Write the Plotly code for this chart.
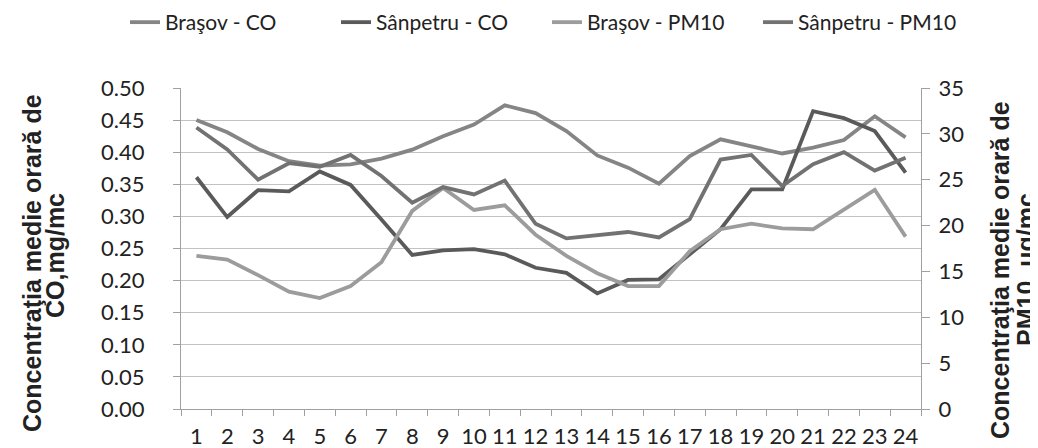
import plotly.graph_objects as go

hours = list(range(1, 25))

brasov_co = [0.450, 0.431, 0.405, 0.386, 0.379, 0.381, 0.390, 0.404, 0.425, 0.443, 0.473, 0.461,
             0.433, 0.395, 0.376, 0.351, 0.394, 0.420, 0.409, 0.398, 0.407, 0.419, 0.456, 0.423]
sanpetru_co = [0.361, 0.299, 0.341, 0.339, 0.370, 0.349, 0.295, 0.240, 0.247, 0.249, 0.241, 0.220,
               0.212, 0.180, 0.201, 0.202, 0.241, 0.280, 0.342, 0.342, 0.464, 0.453, 0.433, 0.368]
brasov_pm10 = [16.7, 16.3, 14.6, 12.8, 12.1, 13.4, 16.0, 21.6, 24.1, 21.7, 22.2, 19.0,
               16.7, 14.8, 13.4, 13.4, 17.2, 19.6, 20.2, 19.7, 19.6, 21.8, 23.9, 18.8]
sanpetru_pm10 = [30.7, 28.3, 25.0, 26.8, 26.4, 27.7, 25.4, 22.5, 24.2, 23.4, 24.9, 20.2,
                 18.6, 19.0, 19.3, 18.7, 20.7, 27.2, 27.7, 24.3, 26.7, 28.0, 26.0, 27.4]

series_names = ["Braşov - CO", "Sânpetru - CO", "Braşov - PM10", "Sânpetru - PM10"]
left_title = ["Concentraţia medie orară de", "CO,mg/mc"]
right_title = ["Concentraţia medie orară de", "PM10, ug/mc"]

W, H = 1038, 448
ML, MR, MT, MB = 173, 125, 80, 47
PW, PH = W - ML - MR, H - MT - MB


def px_x(px):
    return (px - ML) / PW


def px_y(py):
    return (H - MB - py) / PH


fig = go.Figure()
fig.add_trace(go.Scatter(x=hours, y=brasov_co, name=series_names[0], mode="lines",
                         line=dict(color="#858585", width=3.8), yaxis="y"))
fig.add_trace(go.Scatter(x=hours, y=sanpetru_co, name=series_names[1], mode="lines",
                         line=dict(color="#5a5a5a", width=3.8), yaxis="y"))
fig.add_trace(go.Scatter(x=hours, y=brasov_pm10, name=series_names[2], mode="lines",
                         line=dict(color="#9c9c9c", width=3.8), yaxis="y2"))
fig.add_trace(go.Scatter(x=hours, y=sanpetru_pm10, name=series_names[3], mode="lines",
                         line=dict(color="#727272", width=3.8), yaxis="y2"))

tick_font = dict(family="Lato", size=22, color="#222222")
title_font = dict(family="Liberation Sans", size=25, color="#222222")

fig.update_layout(
    width=W, height=H,
    margin=dict(l=ML, r=MR, t=MT, b=MB, autoexpand=False),
    paper_bgcolor="white", plot_bgcolor="white",
    showlegend=True,
    legend=dict(orientation="h", x=px_x(117), xanchor="left", y=px_y(-6), yanchor="top",
                font=dict(family="Lato", size=21, color="#222222"),
                entrywidth=166, bgcolor="rgba(0,0,0,0)"),
    xaxis=dict(type="category", tickmode="array", tickvals=hours, ticktext=[str(h) for h in hours],
               tickson="boundaries", ticks="outside", ticklen=6, tickcolor="#a0a0a0",
               showline=True, linecolor="#a0a0a0", linewidth=1.3, showgrid=False,
               tickfont=tick_font, tickangle=0, automargin=False,
               ticklabelstandoff=7, range=[-0.5, 23.5]),
    yaxis=dict(range=[0, 0.5], dtick=0.05, tickformat=".2f", ticks="outside", ticklen=7,
               tickcolor="#a0a0a0", showline=True, linecolor="#a0a0a0", linewidth=1.3,
               showgrid=True, gridcolor="#c2c2c2", gridwidth=1.3, zeroline=False,
               tickfont=tick_font, ticklabelstandoff=24, automargin=False),
    yaxis2=dict(range=[0, 35], dtick=5, overlaying="y", side="right", ticks="outside", ticklen=8,
                tickcolor="#a0a0a0", showline=True, linecolor="#a0a0a0", linewidth=1.3,
                showgrid=False, zeroline=False, tickfont=tick_font, ticklabelstandoff=4,
                automargin=False),
)

annos = [
    (24, 255, left_title[0]), (47, 248, left_title[1]),
    (992, 262, right_title[0]), (1018, 262, right_title[1]),
]
for ax_px, ay_px, txt in annos:
    fig.add_annotation(x=px_x(ax_px), y=px_y(ay_px), xref="paper", yref="paper",
                       text="<b>" + txt + "</b>", showarrow=False, textangle=-90,
                       font=title_font, xanchor="center", yanchor="middle")

fig.write_html("out.html")
